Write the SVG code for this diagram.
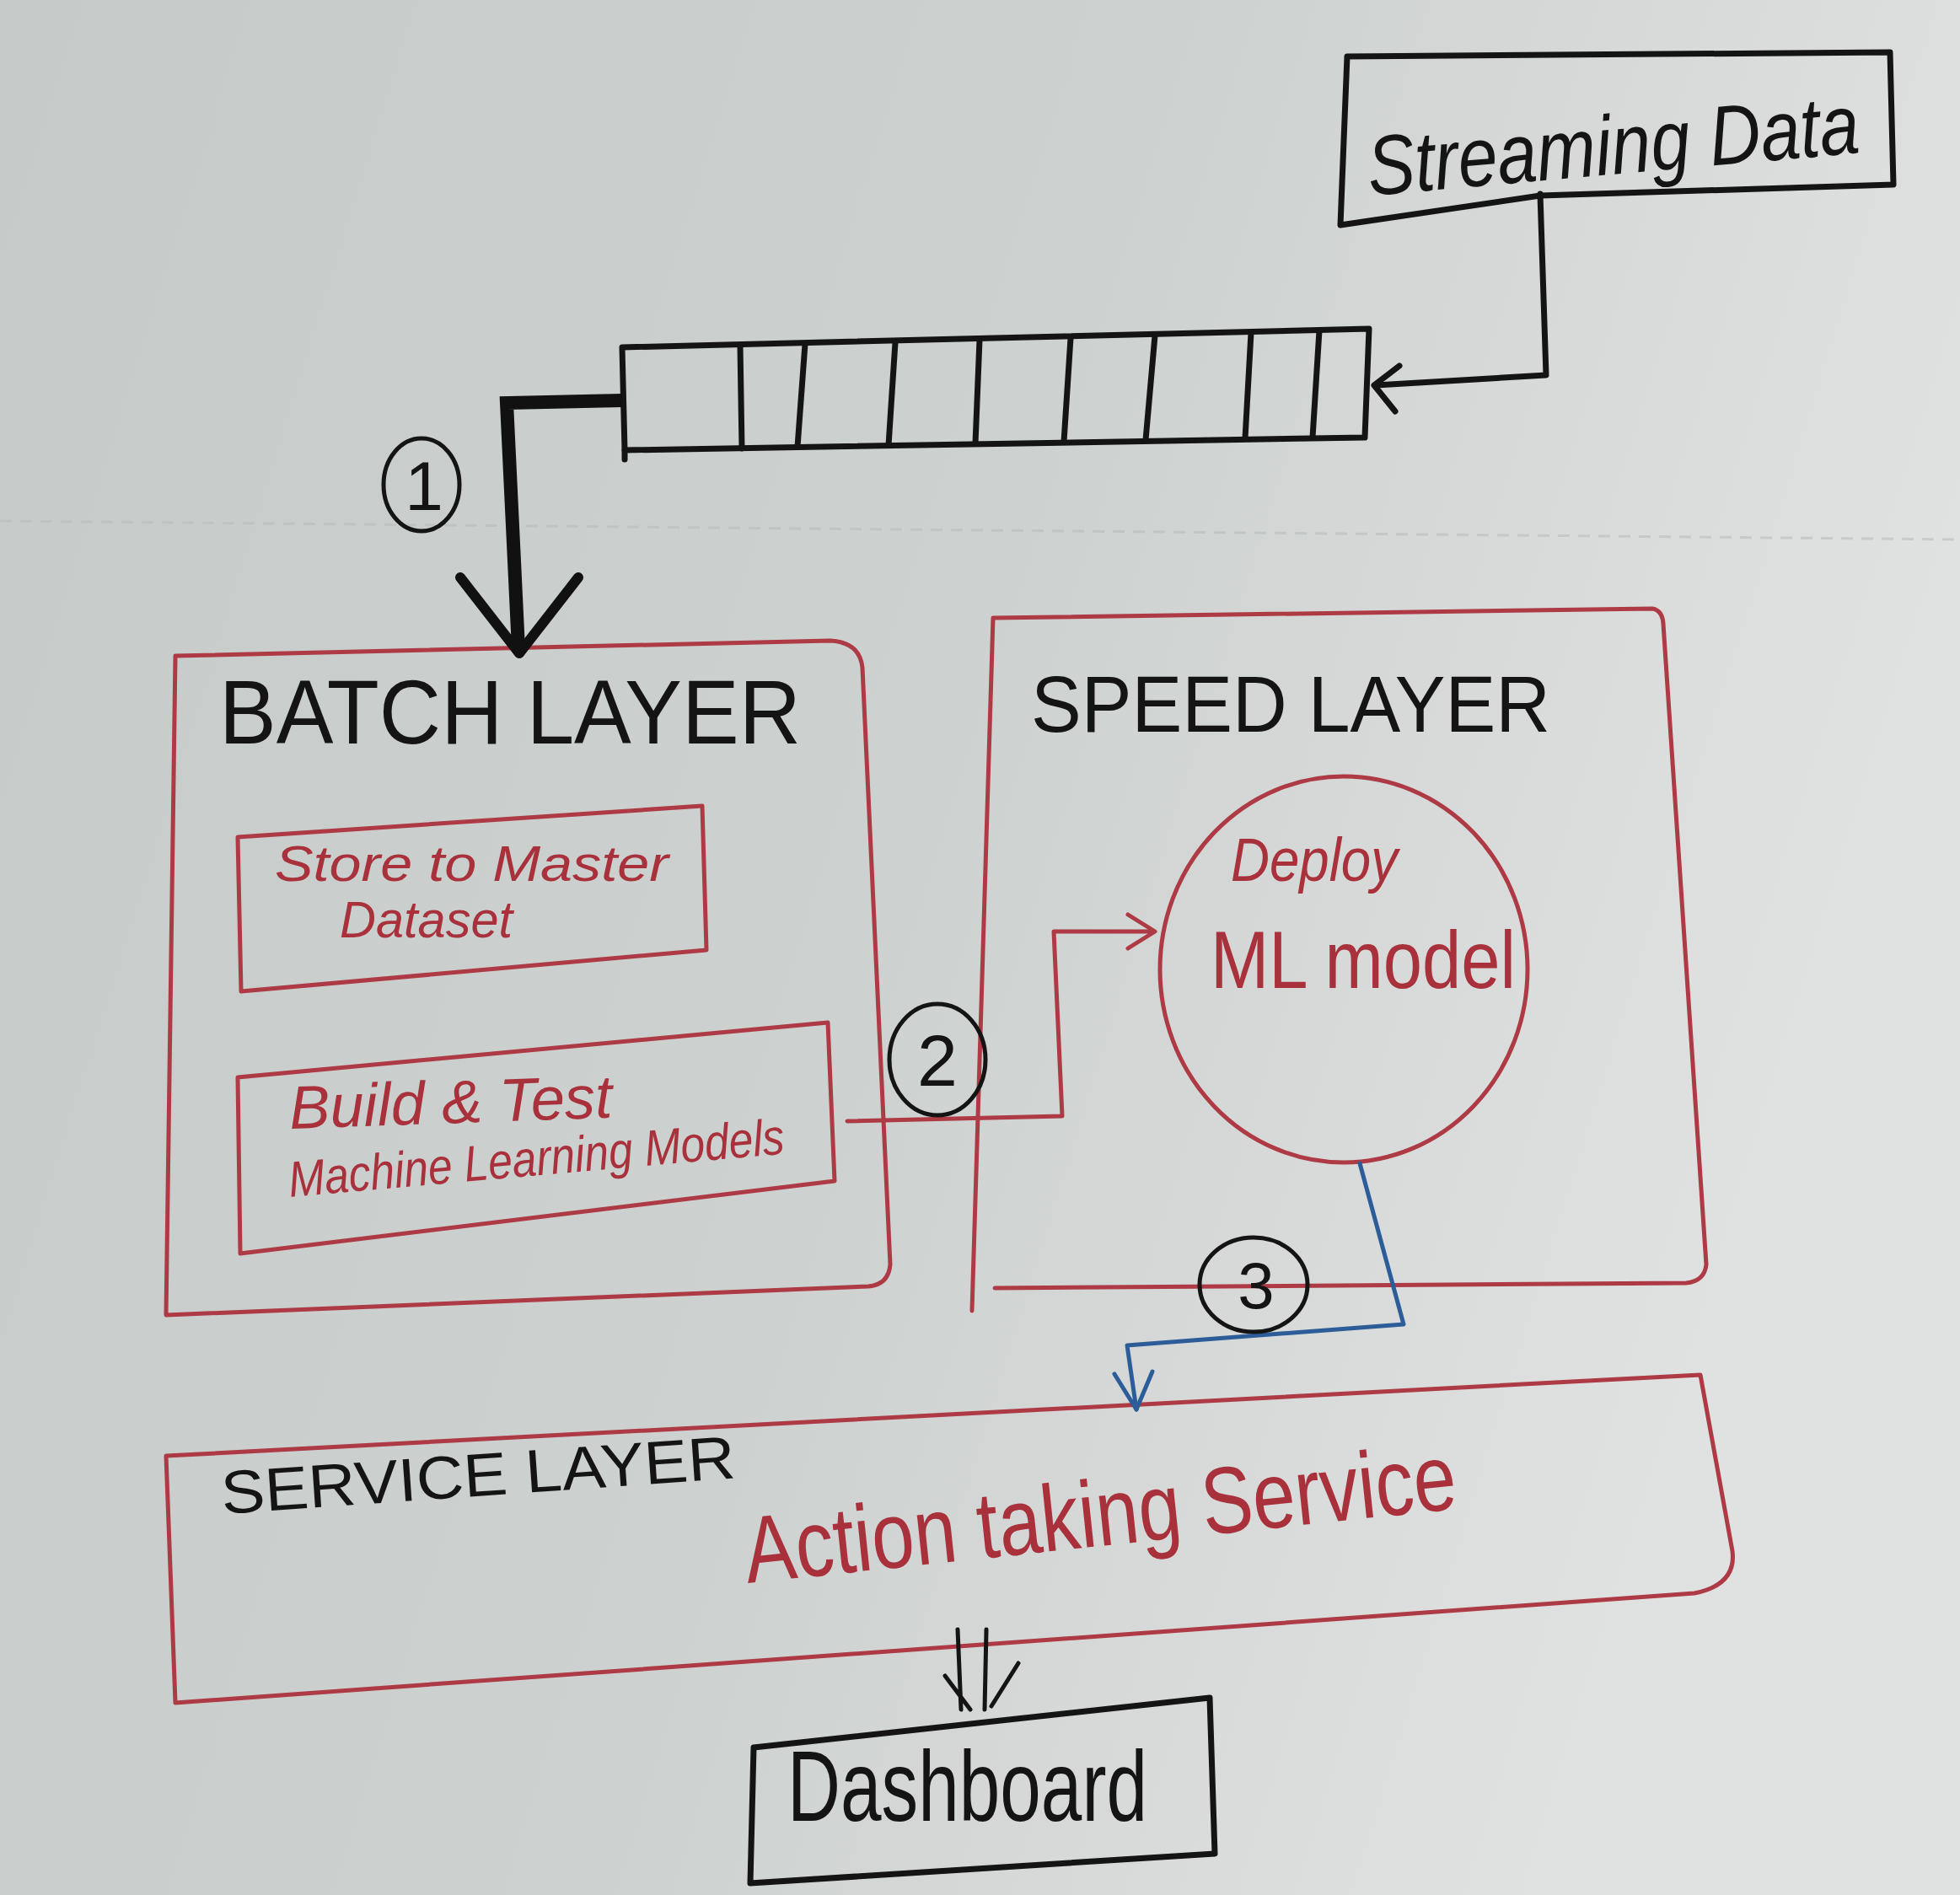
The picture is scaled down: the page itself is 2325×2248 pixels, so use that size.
<svg xmlns="http://www.w3.org/2000/svg" width="2325" height="2248" viewBox="0 0 2325 2248">
<defs>
<linearGradient id="bg" x1="0" y1="0" x2="1" y2="0.3">
<stop offset="0" stop-color="#c6cac9"/>
<stop offset="0.55" stop-color="#cdd1d0"/>
<stop offset="1" stop-color="#e0e2e1"/>
</linearGradient>
<style>
.blk{fill:none;stroke:#141414;stroke-width:7;stroke-linejoin:round;stroke-linecap:round}
.red{fill:none;stroke:#ad3a45;stroke-width:5;stroke-linejoin:round;stroke-linecap:round}
.blue{fill:none;stroke:#2d5d98;stroke-width:5;stroke-linejoin:round;stroke-linecap:round}
.tb{font-family:"Liberation Sans","DejaVu Sans",sans-serif;fill:#141414}
.tr{font-family:"Liberation Sans","DejaVu Sans",sans-serif;fill:#a8313c;font-style:italic}
.up{font-style:normal}
.tn{font-family:"Liberation Sans","DejaVu Sans",sans-serif;fill:#141414;text-anchor:middle}
</style>
</defs>
<rect width="2325" height="2248" fill="url(#bg)"/>
<path d="M0 618 L2325 640" stroke="#b9bdbc" stroke-width="3" stroke-dasharray="14 10" fill="none" opacity="0.6"/>

<g id="streaming-data">
<path class="blk" d="M1598 67 L2242 62 L2246 219 L1827 232 L1590 267 Z"/>
<text class="tb" x="1625" y="232" font-size="100" font-style="italic" textLength="585" lengthAdjust="spacingAndGlyphs" transform="rotate(-5 1625 232)">Streaming Data</text>
</g>

<g id="queue">
<path class="blk" d="M738 412 L1624 390 L1619 519 L741 534 Z"/>
<path class="blk" d="M741 534 L741 545"/>
<path class="blk" d="M878 410 L880 532 M955 408 L946 530 M1062 406 L1054 528 M1162 403 L1157 526 M1270 401 L1262 524 M1370 398 L1359 522 M1484 395 L1477 520 M1565 392 L1557 519"/>
</g>

<g id="batch-layer">
<path class="red" d="M208 778 L985 760 Q1020 762 1023 792 L1056 1500 Q1054 1524 1030 1526 L197 1560 L208 778"/>
<text class="tb" x="260" y="882" font-size="108" textLength="690" lengthAdjust="spacingAndGlyphs">BATCH  LAYER</text>
</g>

<g id="store-master-dataset">
<path class="red" d="M282 993 L833 956 L838 1127 L286 1176 Z"/>
<text class="tr" x="326" y="1045" font-size="60" textLength="467" lengthAdjust="spacingAndGlyphs">Store  to  Master</text>
<text class="tr" x="403" y="1112" font-size="62" textLength="205" lengthAdjust="spacingAndGlyphs">Dataset</text>
</g>

<g id="build-test-models">
<path class="red" d="M282 1278 L982 1213 L990 1401 L285 1487 Z"/>
<text class="tr" x="344" y="1339" font-size="72" textLength="383" lengthAdjust="spacingAndGlyphs" transform="rotate(-2 344 1339)">Build &amp; Test</text>
<text class="tr" x="344" y="1420" font-size="60" textLength="590" lengthAdjust="spacingAndGlyphs" transform="rotate(-5 344 1420)">Machine  Learning  Models</text>
</g>

<g id="speed-layer">
<path class="red" d="M1178 733 L1960 722 Q1972 724 1973 740 L2024 1500 Q2022 1520 2000 1522 L1180 1528 M1178 733 L1153 1555"/>
<text class="tb" x="1223" y="868" font-size="94" textLength="616" lengthAdjust="spacingAndGlyphs">SPEED  LAYER</text>
</g>

<g id="deploy-ml-model">
<ellipse class="red" cx="1594" cy="1150" rx="218" ry="229"/>
<text class="tr" x="1460" y="1045" font-size="72" textLength="198" lengthAdjust="spacingAndGlyphs">Deploy</text>
<text class="tr up" x="1436" y="1172" font-size="96" textLength="362" lengthAdjust="spacingAndGlyphs">ML  model</text>
</g>

<g id="service-layer">
<path class="red" d="M197 1727 L2017 1631 L2055 1840 Q2060 1880 2010 1890 L208 2020 Z"/>
<text class="tb" x="264" y="1796" font-size="72" textLength="611" lengthAdjust="spacingAndGlyphs" transform="rotate(-4 264 1796)">SERVICE  LAYER</text>
<text class="tr up" x="887" y="1878" font-size="112" textLength="848" lengthAdjust="spacingAndGlyphs" transform="rotate(-6 887 1878)">Action  taking  Service</text>
</g>

<g id="dashboard">
<path class="blk" d="M894 2073 Q1200 2040 1435 2014 L1441 2199 L890 2234 Z"/>
<text class="tb" x="934" y="2160" font-size="118" textLength="427" lengthAdjust="spacingAndGlyphs">Dashboard</text>
</g>

<g id="connectors">
<path class="blk" d="M1827 230 L1834 445 L1632 457"/>
<path class="blk" d="M1660 434 L1630 457 L1655 488"/>
<path d="M738 475 L601 478 L615 770" fill="none" stroke="#111" stroke-width="16" stroke-linejoin="miter"/>
<path d="M546 685 L616 775 L686 685" fill="none" stroke="#111" stroke-width="12" stroke-linecap="round" stroke-linejoin="round"/>
<path class="red" d="M1005 1330 L1260 1324 L1250 1105 L1368 1105"/>
<path class="red" d="M1338 1085 L1370 1105 L1338 1125"/>
<path class="blue" d="M1613 1380 L1665 1571 L1337 1596 L1348 1672"/>
<path class="blue" d="M1322 1630 L1348 1672 L1367 1627"/>
<path class="blk" style="stroke-width:5" d="M1136 1933 L1140 2028 M1170 1933 L1168 2028 M1121 1988 L1151 2028 M1208 1973 L1176 2024"/>
</g>

<g id="step-labels">
<ellipse class="blk" style="stroke-width:5" cx="500" cy="575" rx="45" ry="55"/>
<text class="tn" x="503" y="605" font-size="82">1</text>
<ellipse class="blk" style="stroke-width:5" cx="1112" cy="1257" rx="57" ry="66"/>
<text class="tn" x="1112" y="1288" font-size="86">2</text>
<ellipse class="blk" style="stroke-width:5" cx="1487" cy="1524" rx="64" ry="56"/>
<text class="tn" x="1490" y="1552" font-size="78">3</text>
</g>
</svg>
